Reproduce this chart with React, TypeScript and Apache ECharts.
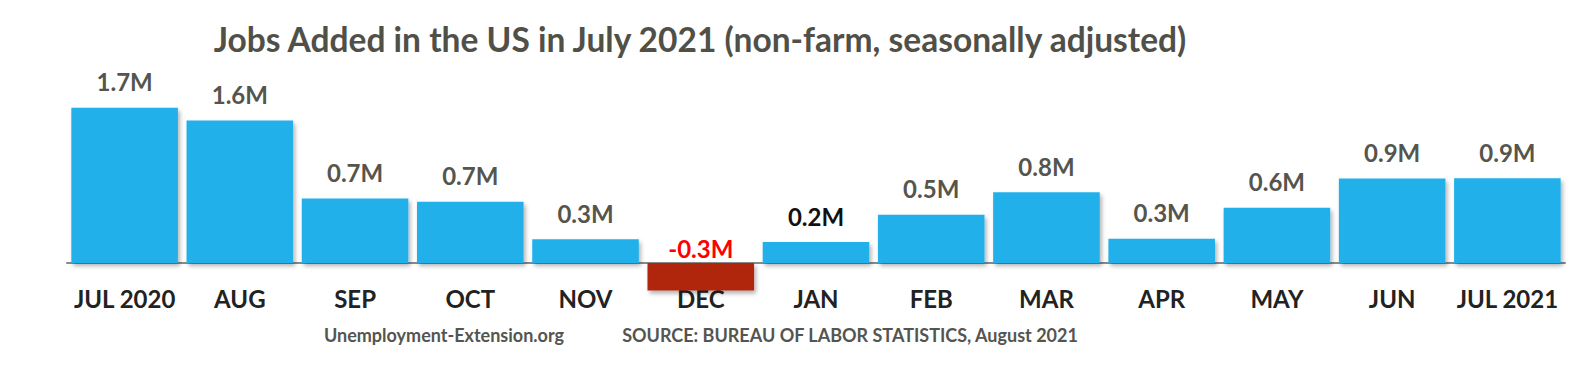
import React, { useEffect, useRef } from "react";
import * as echarts from "echarts";

const title = "Jobs Added in the US in July 2021 (non-farm, seasonally adjusted)";
const categories = ["JUL 2020", "AUG", "SEP", "OCT", "NOV", "DEC", "JAN", "FEB", "MAR", "APR", "MAY", "JUN", "JUL 2021"];
const jobsAddedMillions = [1.726, 1.583, 0.716, 0.68, 0.264, -0.306, 0.233, 0.536, 0.785, 0.269, 0.614, 0.938, 0.943];
const footerLeft = "Unemployment-Extension.org";
const footerRight = "SOURCE: BUREAU OF LABOR STATISTICS, August 2021";

const FONT = "Lato, 'Open Sans', sans-serif";
const Y_MIN = -0.5;
const Y_MAX = 2.0;
const GRID_TOP = 83;
const GRID_HEIGHT = 225;

export default function App() {
  const ref = useRef<HTMLDivElement>(null);
  useEffect(() => {
    if (!ref.current) return;
    const chart = echarts.init(ref.current, null, { renderer: "svg" });
    const data = jobsAddedMillions.map((v, i) => {
      const neg = v < 0;
      const labelColor = neg ? "#ff0000" : categories[i] === "JAN" ? "#111111" : "#55554d";
      return {
        value: v,
        itemStyle: { color: neg ? "#b0280f" : "#23b0ea" },
        label: { color: labelColor, distance: neg ? 3 : 14 },
      };
    });
    // move the category axis up to the zero line of the value scale
    const zeroOffset = -(GRID_HEIGHT * (0 - Y_MIN)) / (Y_MAX - Y_MIN);
    chart.setOption({
      animation: false,
      backgroundColor: "#ffffff",
      grid: { left: 67, right: 25, top: GRID_TOP, height: GRID_HEIGHT },
      xAxis: {
        type: "category",
        data: categories,
        offset: zeroOffset,
        axisLine: {
          show: true,
          onZero: false,
          lineStyle: { color: "#8a8a8a", width: 2 },
        },
        axisTick: { show: false },
        axisLabel: { interval: 0, color: "#222222", fontWeight: "bold", fontSize: 24, fontFamily: FONT, margin: 23 },
      },
      yAxis: {
        type: "value",
        min: Y_MIN,
        max: Y_MAX,
        axisLine: { show: false },
        axisTick: { show: false },
        axisLabel: { show: false },
        splitLine: { show: false },
      },
      series: [
        {
          type: "bar",
          data,
          barCategoryGap: "7.5%",
          itemStyle: { shadowColor: "rgba(0,0,0,0.3)", shadowBlur: 4, shadowOffsetX: 2, shadowOffsetY: 3 },
          label: {
            show: true,
            position: "top",
            fontWeight: "bold",
            fontSize: 24,
            fontFamily: FONT,
            formatter: (p: any) => p.value.toFixed(1) + "M",
          },
        },
      ],
      graphic: [
        {
          type: "text",
          x: 700,
          y: 39,
          style: { text: title, fill: "#505048", font: `bold 33.5px ${FONT}`, align: "center", verticalAlign: "middle" },
        },
        {
          type: "text",
          x: 444,
          y: 335,
          style: { text: footerLeft, fill: "#555550", font: `bold 18px ${FONT}`, align: "center", verticalAlign: "middle" },
        },
        {
          type: "text",
          x: 850,
          y: 335,
          style: { text: footerRight, fill: "#555550", font: `bold 18px ${FONT}`, align: "center", verticalAlign: "middle" },
        },
      ],
    });
    return () => chart.dispose();
  }, []);
  return <div ref={ref} style={{ position: "fixed", left: 0, top: 0, width: 1590, height: 376 }} />;
}
